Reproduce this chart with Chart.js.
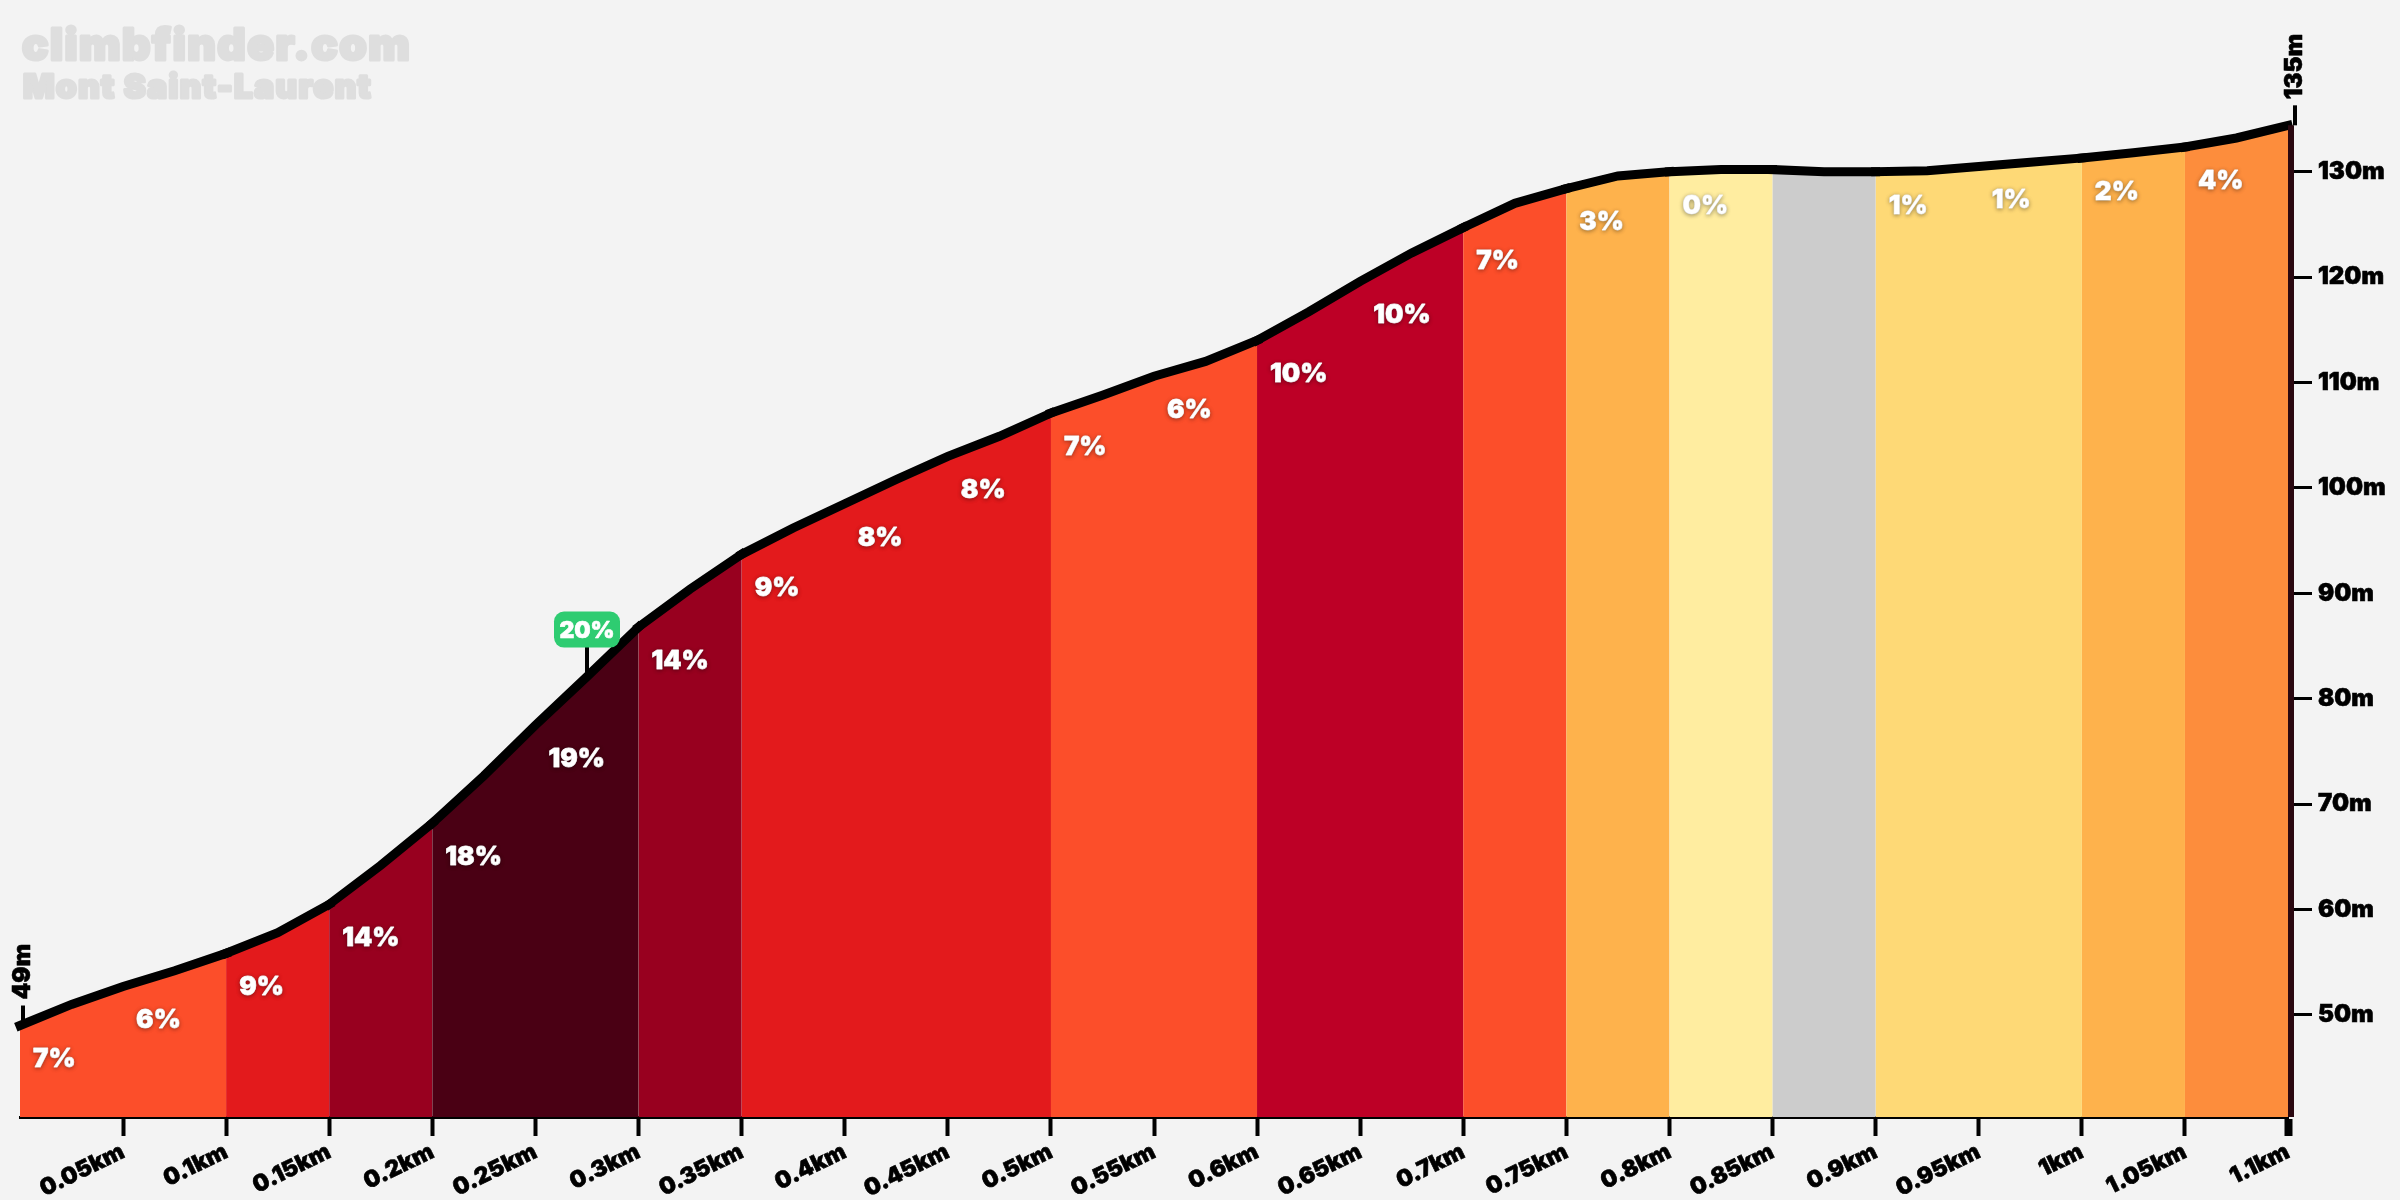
<!DOCTYPE html>
<html>
<head>
<meta charset="utf-8">
<title>Mont Saint-Laurent</title>
<script src="https://cdn.jsdelivr.net/npm/chart.js@4/dist/chart.umd.js"></script>
<style>
    html, body { margin: 0; padding: 0; background: #f3f3f3; }
    canvas { display: block; }
</style>
</head>
<body>
<canvas id="profile" width="2400" height="1200"></canvas>
<script>
// profile sampled every 25m
const distances = [0, 0.025, 0.05, 0.075, 0.1, 0.125, 0.15, 0.175, 0.2, 0.225, 0.25, 0.275, 0.3, 0.325, 0.35, 0.375, 0.4, 0.425, 0.45, 0.475, 0.5, 0.525, 0.55, 0.575, 0.6, 0.625, 0.65, 0.675, 0.7, 0.725, 0.75, 0.775, 0.8, 0.825, 0.85, 0.875, 0.9, 0.925, 0.95, 0.975, 1, 1.025, 1.05, 1.075, 1.1];
const altitudes = [49, 51, 52.7, 54.2, 55.85, 57.8, 60.5, 64.2, 68.2, 72.7, 77.5, 82.1, 86.8, 90.4, 93.7, 96.2, 98.5, 100.8, 103, 104.9, 107.1, 108.8, 110.6, 112, 114, 116.7, 119.6, 122.3, 124.7, 127, 128.4, 129.6, 130, 130.2, 130.2, 130, 130, 130.1, 130.5, 130.9, 131.3, 131.8, 132.35, 133.2, 134.4];

// one entry per 50m section
const sectionGrades = ['7%', '6%', '9%', '14%', '18%', '19%', '14%', '9%', '8%', '8%', '7%', '6%', '10%', '10%', '7%', '3%', '0%', '', '1%', '1%', '2%', '4%'];
const sectionColors = ['#fc4e2a', '#fc4e2a', '#e31a1c', '#98001f', '#4a0014', '#4a0014', '#98001f', '#e31a1c', '#e31a1c', '#e31a1c', '#fc4e2a', '#fc4e2a', '#bd0026', '#bd0026', '#fc4e2a', '#feb24c', '#ffeda0', '#cccccc', '#fed976', '#fed976', '#feb24c', '#fd8d3c'];

const xTicks = [0.05, 0.1, 0.15, 0.2, 0.25, 0.3, 0.35, 0.4, 0.45, 0.5, 0.55, 0.6, 0.65, 0.7, 0.75, 0.8, 0.85, 0.9, 0.95, 1, 1.05, 1.1];
const yTicks = [50, 60, 70, 80, 90, 100, 110, 120, 130];

const siteName = 'climbfinder.com';
const climbName = 'Mont Saint-Laurent';
const steepest = { km: 0.275, label: '20%' };
const startLabel = '49m';
const endLabel = '135m';

const FONT = 'Inter, "Noto Sans", sans-serif';

function strokedText(ctx, text, x, y, color, strokeWidth) {
    ctx.lineJoin = 'round';
    ctx.lineWidth = strokeWidth;
    ctx.strokeStyle = color;
    ctx.fillStyle = color;
    ctx.strokeText(text, x, y);
    ctx.fillText(text, x, y);
}

function sectionColor(ctx) {
    return sectionColors[Math.floor(ctx.p0DataIndex / 2)];
}

const overlay = {
    id: 'overlay',
    beforeDraw: function (chart) {
        const ctx = chart.ctx;
        ctx.save();
        ctx.textAlign = 'left';
        ctx.textBaseline = 'alphabetic';
        ctx.letterSpacing = '1.5px';
        ctx.font = '900 44px ' + FONT;
        strokedText(ctx, siteName, 22, 60, '#dedede', 3);
        ctx.letterSpacing = '1.5px';
        ctx.font = '900 33px ' + FONT;
        strokedText(ctx, climbName, 23, 98, '#dedede', 3);
        ctx.restore();
    },
    afterDatasetsDraw: function (chart) {
        const ctx = chart.ctx;
        const x = chart.scales.x;
        const y = chart.scales.y;
        const area = chart.chartArea;

        // right hand axis stops at the finish altitude
        ctx.save();
        ctx.strokeStyle = '#2a0810';
        ctx.lineWidth = 6;
        ctx.beginPath();
        ctx.moveTo(area.right + 3, y.getPixelForValue(altitudes[altitudes.length - 1]));
        ctx.lineTo(area.right + 3, area.bottom);
        ctx.stroke();
        ctx.restore();

        // grade labels, sit just under the start of each section
        ctx.save();
        ctx.font = '900 26px ' + FONT;
        ctx.textAlign = 'left';
        ctx.textBaseline = 'middle';
        ctx.shadowColor = 'rgba(0,0,0,0.35)';
        ctx.shadowBlur = 4;
        ctx.shadowOffsetY = 1;
        sectionGrades.forEach(function (grade, i) {
            if (!grade) return;
            const start = i * 2;
            strokedText(ctx, grade, x.getPixelForValue(distances[start]) + 13, y.getPixelForValue(altitudes[start]) + 34, '#ffffff', 0.8);
        });
        ctx.restore();

        // steepest point badge
        const idx = distances.indexOf(steepest.km);
        const bx = x.getPixelForValue(steepest.km);
        const by = y.getPixelForValue(altitudes[idx]);
        ctx.save();
        ctx.strokeStyle = '#000';
        ctx.lineWidth = 4;
        ctx.beginPath();
        ctx.moveTo(bx, by);
        ctx.lineTo(bx, by - 50);
        ctx.stroke();
        ctx.fillStyle = '#2ecc71';
        ctx.beginPath();
        ctx.roundRect(bx - 33, by - 65, 66, 36, 10);
        ctx.fill();
        ctx.font = '900 23px ' + FONT;
        ctx.textAlign = 'center';
        ctx.textBaseline = 'middle';
        strokedText(ctx, steepest.label, bx, by - 46, '#ffffff', 0.6);
        ctx.restore();

        // start and finish altitude
        [[0, startLabel, 3], [distances.length - 1, endLabel, 7]].forEach(function (m) {
            const px = x.getPixelForValue(distances[m[0]]) + m[2];
            const py = y.getPixelForValue(altitudes[m[0]]);
            ctx.save();
            ctx.strokeStyle = '#000';
            ctx.lineWidth = 4;
            ctx.beginPath();
            ctx.moveTo(px, py);
            ctx.lineTo(px, py - 20);
            ctx.stroke();
            ctx.translate(px, py - 26);
            ctx.rotate(-Math.PI / 2);
            ctx.font = '900 24px ' + FONT;
            ctx.textAlign = 'left';
            ctx.textBaseline = 'middle';
            strokedText(ctx, m[1], 0, 0, '#000000', 0.6);
            ctx.restore();
        });
    }
};

const points = distances.map(function (km, i) { return { x: km, y: altitudes[i] }; });

new Chart(document.getElementById('profile'), {
    type: 'line',
    data: {
        labels: distances,
        datasets: [{
            data: points,
            borderColor: '#000000',
            borderWidth: 9,
            borderCapStyle: 'square',
            borderJoinStyle: 'miter',
            pointRadius: 0,
            tension: 0,
            clip: false,
            fill: 'start',
            backgroundColor: sectionColors[0],
            segment: { backgroundColor: sectionColor }
        }, {
            // same fill again underneath, hides the seams between sections
            data: points,
            borderWidth: 0,
            pointRadius: 0,
            tension: 0,
            fill: 'start',
            backgroundColor: sectionColors[0],
            segment: { backgroundColor: sectionColor }
        }]
    },
    options: {
        responsive: false,
        animation: false,
        devicePixelRatio: 1,
        layout: { padding: { left: 20, top: 0, right: 0, bottom: 0 } },
        plugins: { legend: { display: false }, tooltip: { enabled: false } },
        scales: {
            x: {
                type: 'linear',
                min: 0,
                max: 1.1,
                afterFit: function (scale) {
                    scale.height = 83;
                    scale.paddingLeft = 0;
                    scale.paddingRight = 0;
                },
                afterBuildTicks: function (scale) {
                    scale.ticks = xTicks.map(function (v) { return { value: v }; });
                },
                border: { color: '#000000', width: 3 },
                grid: {
                    drawOnChartArea: false,
                    color: '#000000',
                    tickLength: 19,
                    tickWidth: function (ctx) { return ctx.tick && ctx.tick.value === 1.1 ? 8 : 4; }
                },
                ticks: {
                    autoSkip: false,
                    minRotation: 26,
                    maxRotation: 26,
                    padding: 2,
                    color: '#000000',
                    textStrokeColor: '#000000',
                    textStrokeWidth: 0.6,
                    font: { family: FONT, size: 23, weight: '900' },
                    callback: function (v) { return v + 'km'; }
                }
            },
            y: {
                type: 'linear',
                position: 'right',
                min: 40.32,
                max: 146.29,
                afterFit: function (scale) {
                    scale.width = 112;
                    scale.paddingTop = 0;
                    scale.paddingBottom = 0;
                },
                afterBuildTicks: function (scale) {
                    scale.ticks = yTicks.map(function (v) { return { value: v }; });
                },
                border: { display: false },
                grid: {
                    drawOnChartArea: false,
                    color: '#000000',
                    tickLength: 24,
                    tickWidth: 3
                },
                ticks: {
                    padding: 6,
                    color: '#000000',
                    textStrokeColor: '#000000',
                    textStrokeWidth: 0.6,
                    font: { family: FONT, size: 24, weight: '900' },
                    callback: function (v) { return v + 'm'; }
                }
            }
        }
    },
    plugins: [overlay]
});
</script>
</body>
</html>
